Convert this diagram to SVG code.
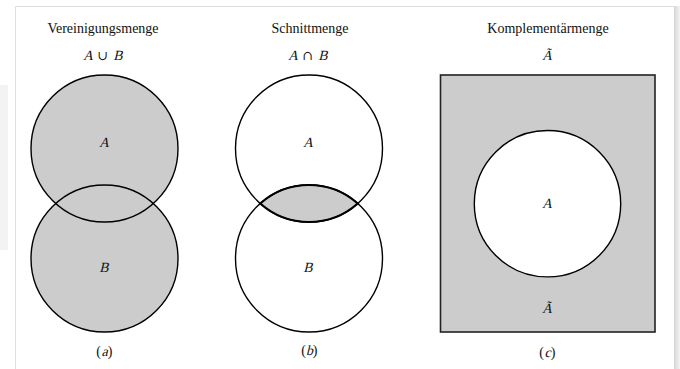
<svg xmlns="http://www.w3.org/2000/svg" width="680" height="369" viewBox="0 0 680 369">
<defs>
<style>
.t{font-family:"Liberation Serif","Times New Roman",serif;font-size:14px;fill:#111;text-anchor:middle}
.i{font-family:"Liberation Serif","Times New Roman",serif;font-size:14px;fill:#111;text-anchor:middle}
.op{font-family:"DejaVu Serif","Liberation Serif",serif;font-size:13px;fill:#111;text-anchor:middle}
.fill{fill:#cccccc;stroke:none}
.ln{fill:none;stroke:#000;stroke-width:1.4}
</style>
<linearGradient id="rs" x1="0" y1="0" x2="1" y2="0">
<stop offset="0" stop-color="#d6d6d6"/>
<stop offset="1" stop-color="#f4f4f4"/>
</linearGradient>
</defs>
<rect width="680" height="369" fill="#fff"/>
<g id="frame">
<rect x="0" y="85" width="8" height="165" fill="#f3f3f3"/>
<rect x="674" y="6" width="6" height="363" fill="url(#rs)"/>
<path d="M15.5,369 V6.5 H674" fill="none" stroke="#dedede" stroke-width="1"/>
</g>
<g id="union">
<text class="t" x="103" y="33">Vereinigungsmenge</text>
<text class="i" transform="translate(88,60) skewX(-14)">A</text>
<text class="op" x="103" y="60">∪</text>
<text class="i" transform="translate(118,60) skewX(-14)">B</text>
<circle class="fill" cx="104.5" cy="148.5" r="73.5"/>
<circle class="fill" cx="104.5" cy="258.5" r="73.5"/>
<circle class="ln" cx="104.5" cy="148.5" r="73.5"/>
<circle class="ln" cx="104.5" cy="258.5" r="73.5"/>
<text class="i" transform="translate(104,147) skewX(-14)">A</text>
<text class="i" transform="translate(104,272) skewX(-14)">B</text>
<text class="i" x="98.5" y="356">(</text>
<text class="i" transform="translate(104.5,356) skewX(-14)">a</text>
<text class="i" x="110" y="356">)</text>
</g>
<g id="intersection">
<text class="t" x="310" y="33">Schnittmenge</text>
<text class="i" transform="translate(293,60) skewX(-14)">A</text>
<text class="op" x="308" y="60">∩</text>
<text class="i" transform="translate(323,60) skewX(-14)">B</text>
<path d="M260.24,203.5 A73.5,73.5 0 0 1 357.76,203.5 A73.5,73.5 0 0 1 260.24,203.5 Z" fill="#cccccc" stroke="#000" stroke-width="2.2"/>
<circle class="ln" cx="309" cy="148.5" r="73.5"/>
<circle class="ln" cx="309" cy="258.5" r="73.5"/>
<text class="i" transform="translate(308,147) skewX(-14)">A</text>
<text class="i" transform="translate(308,272) skewX(-14)">B</text>
<text class="i" x="303.5" y="355">(</text>
<text class="i" transform="translate(309.5,355) skewX(-14)">b</text>
<text class="i" x="315" y="355">)</text>
</g>
<g id="complement">
<text class="t" x="548" y="33">Komplementärmenge</text>
<text class="i" transform="translate(547,60) skewX(-14)">Ã</text>
<rect x="440.5" y="75" width="214.5" height="257" fill="#cccccc" stroke="#222" stroke-width="1.6"/>
<circle cx="547.5" cy="203.7" r="73.2" fill="#fff" stroke="#000" stroke-width="1.4"/>
<text class="i" transform="translate(547,208) skewX(-14)">A</text>
<text class="i" transform="translate(547,313) skewX(-14)">Ã</text>
<text class="i" x="541.5" y="357">(</text>
<text class="i" transform="translate(547.5,357) skewX(-14)">c</text>
<text class="i" x="553" y="357">)</text>
</g>
</svg>
